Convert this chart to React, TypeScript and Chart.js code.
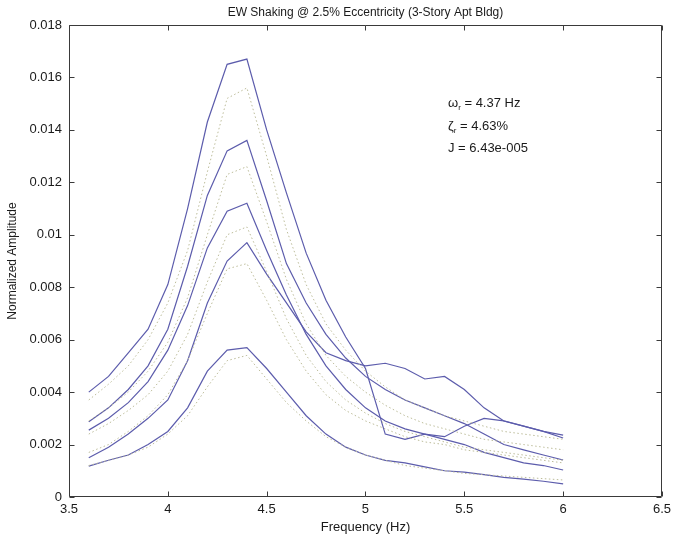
import { useEffect, useRef } from "react";
import { Chart, registerables } from "chart.js";

Chart.register(...registerables);

const titleText = "EW Shaking @ 2.5% Eccentricity (3-Story Apt Bldg)";
const xAxisTitle = "Frequency (Hz)";
const yAxisTitle = "Normalized Amplitude";

const freq = [3.6, 3.7, 3.8, 3.9, 4.0, 4.1, 4.2, 4.3, 4.4, 4.5, 4.6, 4.7, 4.8, 4.9, 5.0, 5.1, 5.2, 5.3, 5.4, 5.5, 5.6, 5.7, 5.8, 5.9, 6.0];

// measured curves (solid blue)
const measured1 = [0.0040, 0.0046, 0.0055, 0.0064, 0.0081, 0.0110, 0.0143, 0.0165, 0.0167, 0.0140, 0.0116, 0.0093, 0.0075, 0.0061, 0.0049, 0.0024, 0.0022, 0.0024, 0.0023, 0.0027, 0.0030, 0.0029, 0.0027, 0.0025, 0.00236];
const measured2 = [0.00287, 0.0034, 0.0041, 0.0050, 0.0064, 0.0088, 0.0115, 0.0132, 0.0136, 0.0113, 0.0089, 0.0074, 0.0062, 0.0053, 0.0046, 0.0041, 0.0037, 0.0034, 0.0031, 0.0028, 0.0024, 0.0020, 0.0018, 0.0016, 0.00141];
const measured3 = [0.00255, 0.0030, 0.0036, 0.0044, 0.0056, 0.0073, 0.0095, 0.0109, 0.0112, 0.0094, 0.0077, 0.0062, 0.0050, 0.0041, 0.0034, 0.0029, 0.0026, 0.0024, 0.0022, 0.0020, 0.0017, 0.0015, 0.0013, 0.0012, 0.00103];
const measured4 = [0.0015, 0.0019, 0.0024, 0.0030, 0.0037, 0.0052, 0.0074, 0.0090, 0.0097, 0.0085, 0.0074, 0.0063, 0.0055, 0.0052, 0.0050, 0.0051, 0.0049, 0.0045, 0.0046, 0.0041, 0.0034, 0.0029, 0.0027, 0.0025, 0.00225];
const measured5 = [0.00118, 0.0014, 0.0016, 0.0020, 0.0025, 0.0034, 0.0048, 0.0056, 0.0057, 0.0049, 0.0040, 0.0031, 0.0024, 0.0019, 0.0016, 0.0014, 0.0013, 0.00115, 0.0010, 0.00095, 0.00085, 0.00075, 0.00068, 0.0006, 0.0005];

// fitted curves (dotted)
const fit1 = [0.0037, 0.0043, 0.0050, 0.0060, 0.0074, 0.0094, 0.0124, 0.0152, 0.0156, 0.0130, 0.0102, 0.0081, 0.0066, 0.0056, 0.0048, 0.0042, 0.0037, 0.0034, 0.0031, 0.0029, 0.0027, 0.0025, 0.0024, 0.0023, 0.0022];
const fit2 = [0.0029, 0.0034, 0.0040, 0.0048, 0.0059, 0.0076, 0.0100, 0.0123, 0.0126, 0.0105, 0.0083, 0.0066, 0.0054, 0.0046, 0.0040, 0.0035, 0.0031, 0.0028, 0.0026, 0.0024, 0.0022, 0.0021, 0.0020, 0.0019, 0.0018];
const fit3 = [0.0024, 0.0028, 0.0033, 0.0039, 0.0048, 0.0062, 0.0082, 0.0100, 0.0103, 0.0086, 0.0068, 0.0054, 0.0044, 0.0037, 0.0032, 0.0028, 0.0025, 0.0023, 0.0021, 0.0019, 0.0018, 0.0017, 0.0016, 0.0015, 0.0014];
const fit4 = [0.0017, 0.0020, 0.0025, 0.0031, 0.0039, 0.0052, 0.0070, 0.0087, 0.0089, 0.0075, 0.0060, 0.0048, 0.0039, 0.0033, 0.0029, 0.0026, 0.0023, 0.0021, 0.0020, 0.0018, 0.0017, 0.0016, 0.0015, 0.0014, 0.0013];
const fit5 = [0.0012, 0.0014, 0.0016, 0.0019, 0.0024, 0.0031, 0.0042, 0.0052, 0.0054, 0.0045, 0.0036, 0.0029, 0.0023, 0.0019, 0.0016, 0.0014, 0.0012, 0.0011, 0.0010, 0.0009, 0.00085, 0.0008, 0.00075, 0.0007, 0.00065];

const measuredSeries = [measured1, measured2, measured3, measured4, measured5];
const fitSeries = [fit1, fit2, fit3, fit4, fit5];

const xTicks = [3.5, 4, 4.5, 5, 5.5, 6, 6.5];
const xTickLabels = ["3.5", "4", "4.5", "5", "5.5", "6", "6.5"];
const yTicks = [0, 0.002, 0.004, 0.006, 0.008, 0.01, 0.012, 0.014, 0.016, 0.018];
const yTickLabels = ["0", "0.002", "0.004", "0.006", "0.008", "0.01", "0.012", "0.014", "0.016", "0.018"];

const annotationLines = [
  { sym: "\u03C9", sub: "r", rest: " = 4.37 Hz" },
  { sym: "\u03B6", sub: "r", rest: " = 4.63%" },
  { sym: "J", sub: "", rest: " = 6.43e-005" },
];

const FONT = '"Liberation Sans", Arial, Helvetica, sans-serif';

export default function App() {
  const ref = useRef<HTMLCanvasElement | null>(null);

  useEffect(() => {
    const canvas = ref.current;
    if (!canvas) return;

    const toPts = (arr: number[]) => arr.map((v, i) => ({ x: freq[i], y: v }));

    const datasets: any[] = [];
    fitSeries.forEach((s, i) => {
      datasets.push({
        label: "fit" + (i + 1),
        data: toPts(s),
        borderColor: "rgba(185,185,150,0.95)",
        borderWidth: 1,
        borderDash: [1.5, 2.5],
        pointRadius: 0,
        showLine: true,
        tension: 0,
        fill: false,
      });
    });
    measuredSeries.forEach((s, i) => {
      datasets.push({
        label: "measured" + (i + 1),
        data: toPts(s),
        borderColor: "rgb(92,92,172)",
        borderWidth: 1.2,
        pointRadius: 0,
        showLine: true,
        tension: 0,
        fill: false,
      });
    });

    const decor = {
      id: "decor",
      beforeDraw(chart: any) {
        const c = chart.ctx;
        c.save();
        c.fillStyle = "#ffffff";
        c.fillRect(0, 0, chart.width, chart.height);
        c.restore();
      },
      afterDraw(chart: any) {
        const c = chart.ctx;
        const { left, right, top, bottom } = chart.chartArea;
        const xs = chart.scales.x;
        const ys = chart.scales.y;
        c.save();
        c.strokeStyle = "#3a3a3a";
        c.lineWidth = 1;
        const L = Math.round(left) + 0.5;
        const R = Math.round(right) - 0.5;
        const T = Math.round(top) + 0.5;
        const B = Math.round(bottom) - 0.5;
        c.beginPath();
        c.rect(L, T, R - L, B - T);
        const tl = 5;
        xTicks.forEach((v) => {
          const px = Math.round(xs.getPixelForValue(v)) + 0.5;
          c.moveTo(px, B);
          c.lineTo(px, B - tl);
          c.moveTo(px, T);
          c.lineTo(px, T + tl);
        });
        yTicks.forEach((v) => {
          const py = Math.round(ys.getPixelForValue(v)) + 0.5;
          c.moveTo(L, py);
          c.lineTo(L + tl, py);
          c.moveTo(R, py);
          c.lineTo(R - tl, py);
        });
        c.stroke();

        c.fillStyle = "#1a1a1a";
        c.textBaseline = "middle";
        c.textAlign = "center";
        c.font = "12px " + FONT;
        c.fillText(titleText, (left + right) / 2, 13);
        c.font = "13px " + FONT;
        c.fillText(xAxisTitle, (left + right) / 2, 527);
        c.save();
        c.translate(13, (top + bottom) / 2);
        c.rotate(-Math.PI / 2);
        c.font = "12px " + FONT;
        c.fillText(yAxisTitle, 0, 0);
        c.restore();

        // annotation
        c.textAlign = "left";
        const ax = 448;
        const ay = [103, 126, 148];
        annotationLines.forEach((ln, i) => {
          let x = ax;
          c.font = "13px " + FONT;
          c.fillText(ln.sym, x, ay[i]);
          x += c.measureText(ln.sym).width;
          if (ln.sub) {
            c.font = "8px " + FONT;
            c.fillText(ln.sub, x, ay[i] + 5);
            x += c.measureText(ln.sub).width;
          }
          c.font = "13px " + FONT;
          c.fillText(ln.rest, x, ay[i]);
        });
        c.restore();
      },
    };

    const chart = new Chart(canvas, {
      type: "line",
      data: { datasets },
      plugins: [decor],
      options: {
        animation: false,
        responsive: false,
        maintainAspectRatio: false,
        layout: { padding: { left: 0, right: 9, top: 25, bottom: 0 } },
        plugins: {
          legend: { display: false },
          tooltip: { enabled: false },
          title: { display: false },
        },
        scales: {
          x: {
            type: "linear",
            min: 3.5,
            max: 6.5,
            afterBuildTicks: (s: any) => {
              s.ticks = xTicks.map((v) => ({ value: v }));
            },
            afterFit: (s: any) => {
              s.height = 45;
            },
            grid: { display: false, drawTicks: false },
            border: { display: false },
            ticks: {
              padding: 5,
              color: "#1a1a1a",
              font: { family: FONT, size: 13 },
              maxRotation: 0,
              callback: (_v: any, i: number) => xTickLabels[i],
            },
          },
          y: {
            type: "linear",
            min: 0,
            max: 0.018,
            afterBuildTicks: (s: any) => {
              s.ticks = yTicks.map((v) => ({ value: v }));
            },
            afterFit: (s: any) => {
              s.width = 69;
            },
            grid: { display: false, drawTicks: false },
            border: { display: false },
            ticks: {
              padding: 7,
              color: "#1a1a1a",
              font: { family: FONT, size: 13 },
              callback: (_v: any, i: number) => yTickLabels[i],
            },
          },
        },
      },
    });
    return () => chart.destroy();
  }, []);

  return (
    <div style={{ position: "absolute", left: 0, top: 0, width: 676, height: 542, background: "#fff" }}>
      <canvas ref={ref} width={676} height={542} style={{ display: "block" }} />
    </div>
  );
}
